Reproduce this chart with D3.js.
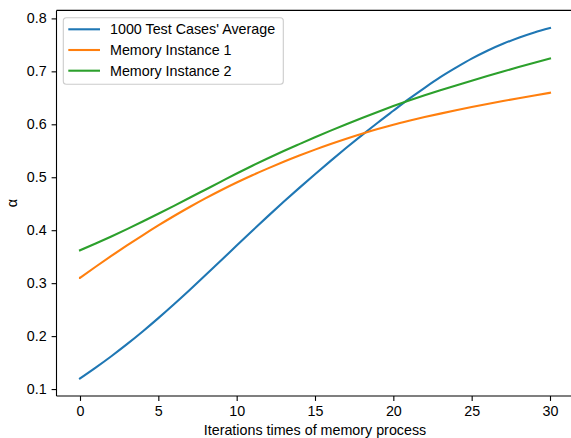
<!DOCTYPE html>
<html>
<head>
<meta charset="utf-8">
<script src="https://cdn.jsdelivr.net/npm/d3@7"></script>
<style>
  html, body { margin: 0; padding: 0; background: #fff; }
  svg { display: block; font-family: "Liberation Sans", Arial, sans-serif; }
</style>
</head>
<body>
<svg id="chart" width="571" height="438"></svg>
<script>
// Iteration index of the memory process
const iterations = d3.range(0, 31);

// alpha per iteration for each series
const averageAlpha = [
  0.1200, 0.1405, 0.1620, 0.1848, 0.2088, 0.2340, 0.2602, 0.2872, 0.3148, 0.3428,
  0.3710, 0.3990, 0.4266, 0.4536, 0.4800, 0.5058, 0.5310, 0.5556, 0.5796, 0.6030,
  0.6256, 0.6480, 0.6690, 0.6890, 0.7070, 0.7240, 0.7390, 0.7520, 0.7635, 0.7735,
  0.7820
];
const instance1Alpha = [
  0.3100, 0.3310, 0.3514, 0.3712, 0.3904, 0.4090, 0.4268, 0.4438, 0.4600, 0.4754,
  0.4900, 0.5038, 0.5168, 0.5292, 0.5410, 0.5522, 0.5628, 0.5728, 0.5822, 0.5910,
  0.5992, 0.6066, 0.6136, 0.6202, 0.6265, 0.6325, 0.6383, 0.6439, 0.6493, 0.6545,
  0.6595
];
const instance2Alpha = [
  0.3620, 0.3748, 0.3882, 0.4021, 0.4164, 0.4310, 0.4460, 0.4612, 0.4765, 0.4918,
  0.5070, 0.5218, 0.5360, 0.5496, 0.5626, 0.5754, 0.5880, 0.6002, 0.6120, 0.6234,
  0.6344, 0.6448, 0.6547, 0.6642, 0.6734, 0.6824, 0.6912, 0.6998, 0.7082, 0.7164,
  0.7244
];

const seriesNames = ["1000 Test Cases' Average", "Memory Instance 1", "Memory Instance 2"];
const seriesColors = ["#1f77b4", "#ff7f0e", "#2ca02c"];
const seriesValues = [averageAlpha, instance1Alpha, instance2Alpha];

const xTicks = [0, 5, 10, 15, 20, 25, 30];
const yTicks = [0.1, 0.2, 0.3, 0.4, 0.5, 0.6, 0.7, 0.8];
const xLabel = "Iterations times of memory process";
const yLabel = "α";

const fontSize = "14.3px";

// Plot frame
const plot = { left: 56.5, right: 573.5, top: 10.4, bottom: 396 };

// Domains padded by 5% on each side
const xMin = d3.min(iterations), xMax = d3.max(iterations);
const xPad = (xMax - xMin) * 0.05;
const allVals = seriesValues.flat();
const yMin = d3.min(allVals), yMax = d3.max(allVals);
const yPad = (yMax - yMin) * 0.05;

const x = d3.scaleLinear().domain([xMin - xPad, xMax + xPad]).range([plot.left, plot.right]);
const y = d3.scaleLinear().domain([yMin - yPad, yMax + yPad]).range([plot.bottom, plot.top]);

const svg = d3.select("#chart");

// Series lines
const line = d3.line()
  .x((d, i) => x(iterations[i]))
  .y(d => y(d))
  .curve(d3.curveMonotoneX);

seriesValues.forEach((vals, k) => {
  svg.append("path")
    .datum(vals)
    .attr("fill", "none")
    .attr("stroke", seriesColors[k])
    .attr("stroke-width", 2.1)
    .attr("stroke-linecap", "square")
    .attr("d", line);
});

// Axes
const xAxis = svg.append("g")
  .attr("transform", `translate(0,${plot.bottom})`)
  .call(d3.axisBottom(x).tickValues(xTicks).tickFormat(d3.format("d")).tickSize(4.9).tickPadding(4.9));
const yAxis = svg.append("g")
  .attr("transform", `translate(${plot.left},0)`)
  .call(d3.axisLeft(y).tickValues(yTicks).tickFormat(d3.format(".1f")).tickSize(4.9).tickPadding(4.9));

[xAxis, yAxis].forEach(g => {
  g.select(".domain").remove();
  g.selectAll(".tick line").attr("stroke", "#000").attr("stroke-width", 1.1);
  g.selectAll(".tick text")
    .attr("fill", "#000")
    .style("font-size", fontSize)
    .style("font-family", "'Liberation Sans', Arial, sans-serif");
});

// Frame spines
const spines = svg.append("g").attr("stroke", "#000").attr("stroke-width", 1.1).attr("fill", "none");
spines.append("line").attr("x1", plot.left).attr("x2", plot.left).attr("y1", plot.top).attr("y2", plot.bottom);
spines.append("line").attr("x1", plot.right).attr("x2", plot.right).attr("y1", plot.top).attr("y2", plot.bottom);
spines.append("line").attr("x1", plot.left).attr("x2", plot.right).attr("y1", plot.top).attr("y2", plot.top);
spines.append("line").attr("x1", plot.left).attr("x2", plot.right).attr("y1", plot.bottom).attr("y2", plot.bottom);

// Axis titles
svg.append("text")
  .attr("x", (plot.left + plot.right) / 2)
  .attr("y", 435)
  .attr("text-anchor", "middle")
  .attr("fill", "#000")
  .style("font-size", fontSize)
  .text(xLabel);

svg.append("text")
  .attr("transform", `translate(17,${(plot.top + plot.bottom) / 2}) rotate(-90)`)
  .attr("text-anchor", "middle")
  .attr("fill", "#000")
  .style("font-size", fontSize)
  .text(yLabel);

// Legend
const legend = svg.append("g").attr("transform", "translate(63.3,17.7)");
legend.append("rect")
  .attr("width", 220)
  .attr("height", 66.6)
  .attr("rx", 3)
  .attr("fill", "#fff")
  .attr("fill-opacity", 0.8)
  .attr("stroke", "#cccccc")
  .attr("stroke-width", 1.1);

seriesNames.forEach((name, k) => {
  const row = legend.append("g").attr("transform", `translate(0,${11.6 + k * 20.7})`);
  row.append("line")
    .attr("x1", 5).attr("x2", 36.7)
    .attr("stroke", seriesColors[k])
    .attr("stroke-width", 2.1);
  row.append("text")
    .attr("x", 46.7)
    .attr("dy", "0.36em")
    .attr("fill", "#000")
    .style("font-size", fontSize)
    .text(name);
});
</script>
</body>
</html>
